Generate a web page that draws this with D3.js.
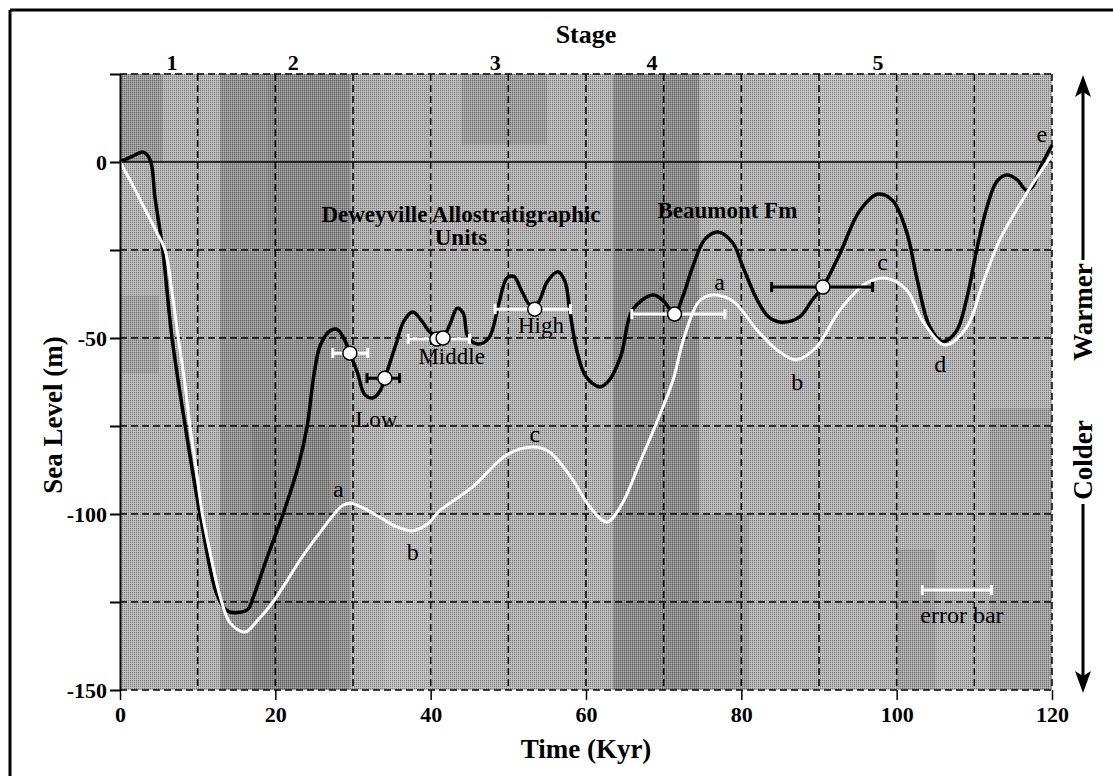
<!DOCTYPE html>
<html>
<head>
<meta charset="utf-8">
<script src="https://cdn.jsdelivr.net/npm/d3@7"></script>
<style>
body { margin: 0; background: #fff; }
svg text { font-family: "Liberation Serif", "Times New Roman", serif; fill: #000; }
</style>
</head>
<body>
<svg id="chart" width="1113" height="776"></svg>
<script>
// sea level curve from the dated units (black)
var blackKyr = [0, 1.5, 3.0, 3.9, 4.5, 5.5, 6.7, 8.4, 10.3, 12.5, 13.8, 15.2, 16.5, 17.1, 19.0, 21.0, 23.0, 24.1, 25.0, 25.8, 27.0, 27.9, 28.8, 29.6, 30.6, 31.5, 32.6, 33.5, 34.1, 35.5, 36.6, 37.7, 38.8, 40.0, 41.6, 42.5, 43.4, 44.2, 44.8, 46.1, 47.5, 48.8, 49.8, 50.7, 51.8, 52.8, 53.8, 55.0, 56.4, 57.3, 57.9, 58.8, 60.0, 61.8, 63.0, 64.5, 66.0, 68.6, 70.0, 71.4, 72.5, 73.7, 75.3, 77.0, 78.9, 80.2, 82.0, 83.5, 85.2, 87.5, 89.2, 90.5, 92.7, 95.2, 97.6, 99.5, 101.3, 102.6, 104.2, 105.9, 107.7, 109.0, 110.3, 111.6, 112.9, 114.2, 115.5, 116.7, 117.5, 118.4, 120];
var blackSea = [0, 1.5, 2.8, 0.5, -10, -25, -50, -75, -100, -123, -127.5, -128, -127, -124, -112, -100, -86, -75, -60, -52, -48, -47.5, -50, -54.3, -60, -66, -67, -65, -61.4, -52, -45, -42.6, -45, -48.5, -49.5, -46, -41.6, -43, -49.7, -51.7, -50, -40, -33, -32.5, -37, -40.6, -40, -34, -31.2, -34, -42, -53.4, -61, -63.9, -62, -55, -42, -37.8, -39.5, -43.2, -38, -30, -22, -19.9, -23, -29.8, -39, -44, -45.5, -44, -39, -35.5, -26, -14, -9.1, -11, -20, -33, -46.5, -51, -48, -39, -25, -13, -5.5, -3.7, -5, -8, -7, -2, 4.8];

// oxygen isotope sea level curve (white)
var whiteKyr = [0, 1.5, 3.0, 4.5, 5.8, 6.7, 7.5, 8.3, 9.0, 9.8, 10.6, 11.7, 12.9, 14.2, 16.1, 17.6, 19.7, 21.5, 23.2, 25.5, 27.4, 28.7, 29.8, 31.5, 33.5, 35.5, 37.6, 39.5, 41.2, 45.4, 49.8, 53.2, 55.3, 58.3, 60.5, 62.7, 64.7, 66.9, 69.1, 71.2, 72.6, 74.6, 76.3, 78.9, 82.0, 84.6, 87.1, 89.7, 92.7, 96.1, 98.7, 101.3, 103.3, 106.2, 109.0, 111.1, 113.3, 116.7, 120];
var whiteSea = [0, -6, -12.5, -19, -25, -37, -50, -62, -75, -87, -100, -112, -123.5, -131, -133.5, -130.5, -125, -119, -113, -106, -100.5, -97.5, -97, -98.5, -101, -103.5, -104.8, -103, -99, -92.3, -83.2, -81, -82.4, -90.3, -98, -102.3, -96.9, -85.5, -74, -62, -50, -39.5, -37.8, -39.5, -47.7, -53.4, -56.2, -52.5, -42, -34.4, -33, -36.4, -45, -52, -47, -34.4, -22, -9, 2];

// dated samples with age error bars
var barLow = [27.4, 31.8, 37.1, 48.3, 65.9, 83.9];
var barHigh = [31.9, 36.0, 45.0, 58.0, 77.9, 96.9];
var barSea = [-54.3, -61.4, -50.3, -41.8, -43.2, -35.5];
var barGroup = [1, 2, 1, 1, 1, 2];
var pointKyr = [29.6, 34.1, 40.8, 41.6, 53.4, 71.4, 90.5];
var pointSea = [-54.3, -61.4, -50.3, -50.0, -41.8, -43.2, -35.5];

// legend error bar
var legendBarKyr = [103.3, 112.2];
var legendBarSea = -121.6;

// labels
var stageNames = ["1", "2", "3", "4", "5"];
var stageKyr = [6.7, 22.3, 48.3, 68.5, 97.6];
var peakNames = ["a", "b", "c", "a", "b", "c", "d", "e"];
var peakKyr = [28.1, 37.7, 53.4, 77.2, 87.2, 98.2, 105.6, 118.7];
var peakSea = [-95.2, -113.1, -79.5, -36.4, -64.8, -30.7, -59.7, 5.7];
var unitNames = ["Low", "Middle", "High"];
var unitKyr = [33.0, 42.7, 54.2];
var unitSea = [-75.3, -57.4, -48.6];
var yTicks = [25, 0, -25, -50, -75, -100, -125, -150];
var yLabels = [0, -50, -100, -150];
var xTicks = [0, 20, 40, 60, 80, 100, 120];

// background halftone patches [kyr0, kyr1, sea0, sea1, grey]
var patches = [
    [0, 120, -150, 25, "#b3b3b3"],
    [0, 5.5, 0, 25, "#979797"],
    [0, 5, -60, -38, "#a2a2a2"],
    [12.9, 29.6, -150, 25, "#919191"],
    [17, 27, -150, -75, "#858585"],
    [19, 29.6, 25, -25, "#888888"],
    [29.6, 33.5, 25, -75, "#adadad"],
    [34, 40, -75, -150, "#bcbcbc"],
    [44, 55, 25, 5, "#9c9c9c"],
    [63.5, 74.6, -150, 25, "#8b8b8b"],
    [74.6, 81, -150, -100, "#9e9e9e"],
    [84, 100, 25, 0, "#bcbcbc"],
    [100, 105, -150, -110, "#a2a2a2"],
    [112, 120, -150, -70, "#a0a0a0"]
];

var svg = d3.select("#chart");
var x = d3.scaleLinear().domain([0, 120]).range([120, 1052]);
var y = d3.scaleLinear().domain([-150, 25]).range([690, 74]);

drawFrame();
drawBackground();
drawGrid();
drawCurves();
drawErrorBars();
drawAxes();
drawLabels();
drawArrow();

function drawFrame() {
    svg.append("line").attr("x1", 10).attr("y1", 10).attr("x2", 1113).attr("y2", 10)
        .attr("stroke", "#000").attr("stroke-width", 3);
    svg.append("line").attr("x1", 10).attr("y1", 10).attr("x2", 10).attr("y2", 776)
        .attr("stroke", "#000").attr("stroke-width", 3);
}

function drawBackground() {
    var defs = svg.append("defs");
    var pat = defs.append("pattern")
        .attr("id", "halftone")
        .attr("width", 2).attr("height", 2)
        .attr("patternUnits", "userSpaceOnUse");
    pat.append("rect").attr("width", 1).attr("height", 1).attr("fill", "#000").attr("opacity", 0.3);
    pat.append("rect").attr("x", 1).attr("y", 1).attr("width", 1).attr("height", 1).attr("fill", "#fff").attr("opacity", 0.3);

    svg.append("g").selectAll("rect")
        .data(patches)
        .join("rect")
        .attr("x", function (d) { return x(d[0]); })
        .attr("y", function (d) { return y(Math.max(d[2], d[3])); })
        .attr("width", function (d) { return x(d[1]) - x(d[0]); })
        .attr("height", function (d) { return Math.abs(y(d[2]) - y(d[3])); })
        .attr("fill", function (d) { return d[4]; });

    svg.append("rect")
        .attr("x", x(0)).attr("y", y(25))
        .attr("width", x(120) - x(0)).attr("height", y(-150) - y(25))
        .attr("fill", "url(#halftone)");
}

function drawGrid() {
    var g = svg.append("g").attr("stroke", "#000").attr("stroke-width", 1.5).attr("stroke-dasharray", "7,4");
    g.selectAll("line.v")
        .data(d3.range(10, 121, 10))
        .join("line")
        .attr("class", "v")
        .attr("x1", function (d) { return x(d); }).attr("x2", function (d) { return x(d); })
        .attr("y1", y(25)).attr("y2", y(-150));
    g.selectAll("line.h")
        .data([25, -25, -50, -75, -100, -125, -150])
        .join("line")
        .attr("class", "h")
        .attr("x1", x(0)).attr("x2", x(120))
        .attr("y1", function (d) { return y(d); }).attr("y2", function (d) { return y(d); });
    // present sea level
    svg.append("line")
        .attr("x1", x(0)).attr("x2", x(120))
        .attr("y1", y(0)).attr("y2", y(0))
        .attr("stroke", "#000").attr("stroke-width", 1.5);
}

function drawCurves() {
    var line = d3.line().curve(d3.curveCatmullRom.alpha(0.5));
    var blackPts = blackKyr.map(function (k, i) { return [x(k), y(blackSea[i])]; });
    var whitePts = whiteKyr.map(function (k, i) { return [x(k), y(whiteSea[i])]; });
    svg.append("path")
        .attr("d", line(blackPts))
        .attr("fill", "none").attr("stroke", "#000").attr("stroke-width", 3.5)
        .attr("stroke-linejoin", "round");
    svg.append("path")
        .attr("d", line(whitePts))
        .attr("fill", "none").attr("stroke", "#fff").attr("stroke-width", 3)
        .attr("stroke-linejoin", "round");
}

function errorBar(g, k0, k1, sea, colour) {
    var yy = y(sea);
    g.append("line").attr("x1", x(k0)).attr("x2", x(k1)).attr("y1", yy).attr("y2", yy)
        .attr("stroke", colour).attr("stroke-width", 3);
    [k0, k1].forEach(function (k) {
        g.append("line").attr("x1", x(k)).attr("x2", x(k)).attr("y1", yy - 5).attr("y2", yy + 5)
            .attr("stroke", colour).attr("stroke-width", 3);
    });
}

function drawErrorBars() {
    var g = svg.append("g");
    for (var i in barLow) {
        errorBar(g, barLow[i], barHigh[i], barSea[i], barGroup[i] == 1 ? "#fff" : "#000");
    }
    g.selectAll("circle")
        .data(pointKyr)
        .join("circle")
        .attr("cx", function (d) { return x(d); })
        .attr("cy", function (d, i) { return y(pointSea[i]); })
        .attr("r", 7)
        .attr("fill", "#fff").attr("stroke", "#000").attr("stroke-width", 1.5);

    errorBar(g, legendBarKyr[0], legendBarKyr[1], legendBarSea, "#fff");
}

function drawAxes() {
    var ya = svg.append("g")
        .attr("transform", "translate(" + x(0) + ",0)")
        .call(d3.axisLeft(y).tickValues(yTicks).tickSize(10).tickSizeOuter(0).tickPadding(3)
            .tickFormat(function (d) { return yLabels.indexOf(d) >= 0 ? String(d) : ""; }));
    ya.select(".domain").attr("stroke-width", 2);
    ya.selectAll(".tick line").attr("stroke-width", 2);

    var xa = svg.append("g")
        .attr("transform", "translate(0," + y(-150) + ")")
        .call(d3.axisBottom(x).tickValues(xTicks).tickSize(10).tickPadding(6).tickFormat(String));
    xa.select(".domain").remove();
    xa.selectAll(".tick line").attr("stroke-width", 1.5);

    svg.selectAll(".tick text")
        .attr("font-family", "Liberation Serif")
        .attr("font-weight", "bold")
        .attr("font-size", 22);

    svg.append("text")
        .attr("x", (x(0) + x(120)) / 2).attr("y", 758)
        .attr("text-anchor", "middle")
        .attr("font-weight", "bold").attr("font-size", 27)
        .text("Time (Kyr)");
    svg.append("text")
        .attr("transform", "translate(62," + 415 + ") rotate(-90)")
        .attr("text-anchor", "middle")
        .attr("font-weight", "bold").attr("font-size", 27)
        .text("Sea Level (m)");
}

function drawLabels() {
    svg.append("text")
        .attr("x", (x(0) + x(120)) / 2).attr("y", 43)
        .attr("text-anchor", "middle")
        .attr("font-weight", "bold").attr("font-size", 26)
        .text("Stage");
    svg.selectAll("text.stage")
        .data(stageNames)
        .join("text")
        .attr("class", "stage")
        .attr("x", function (d, i) { return x(stageKyr[i]); })
        .attr("y", 70)
        .attr("text-anchor", "middle")
        .attr("font-weight", "bold").attr("font-size", 22)
        .text(function (d) { return d; });

    svg.selectAll("text.peak")
        .data(peakNames)
        .join("text")
        .attr("class", "peak")
        .attr("x", function (d, i) { return x(peakKyr[i]); })
        .attr("y", function (d, i) { return y(peakSea[i]); })
        .attr("text-anchor", "middle")
        .attr("font-size", 24)
        .text(function (d) { return d; });

    svg.selectAll("text.unit")
        .data(unitNames)
        .join("text")
        .attr("class", "unit")
        .attr("x", function (d, i) { return x(unitKyr[i]); })
        .attr("y", function (d, i) { return y(unitSea[i]); })
        .attr("text-anchor", "middle")
        .attr("font-size", 23)
        .text(function (d) { return d; });

    var dw = svg.append("text")
        .attr("text-anchor", "middle")
        .attr("font-weight", "bold").attr("font-size", 23);
    dw.append("tspan").attr("x", x(43.9)).attr("y", y(-17)).text("Deweyville Allostratigraphic");
    dw.append("tspan").attr("x", x(43.9)).attr("y", y(-23.6)).text("Units");

    svg.append("text")
        .attr("x", x(78.2)).attr("y", y(-15.9))
        .attr("text-anchor", "middle")
        .attr("font-weight", "bold").attr("font-size", 23)
        .text("Beaumont Fm");

    svg.append("text")
        .attr("x", x(108.4)).attr("y", y(-131))
        .attr("text-anchor", "middle")
        .attr("font-size", 24)
        .text("error bar");
}

function drawArrow() {
    var ax = x(120) + 31;
    var top = y(25) + 1, bottom = y(-150) + 3;
    var warmY = 312, coldY = 460;
    var g = svg.append("g");
    g.append("line").attr("x1", ax).attr("x2", ax).attr("y1", top + 15).attr("y2", warmY - 52)
        .attr("stroke", "#000").attr("stroke-width", 3);
    g.append("line").attr("x1", ax).attr("x2", ax).attr("y1", coldY + 44).attr("y2", bottom - 15)
        .attr("stroke", "#000").attr("stroke-width", 3);
    g.append("path")
        .attr("d", "M" + ax + "," + top + " L" + (ax - 8) + "," + (top + 22) + " L" + ax + "," + (top + 17) + " L" + (ax + 8) + "," + (top + 22) + "Z")
        .attr("fill", "#000");
    g.append("path")
        .attr("d", "M" + ax + "," + bottom + " L" + (ax - 8) + "," + (bottom - 22) + " L" + ax + "," + (bottom - 17) + " L" + (ax + 8) + "," + (bottom - 22) + "Z")
        .attr("fill", "#000");
    g.append("text")
        .attr("transform", "translate(" + (ax + 9) + "," + warmY + ") rotate(-90)")
        .attr("text-anchor", "middle")
        .attr("font-weight", "bold").attr("font-size", 27)
        .text("Warmer");
    g.append("text")
        .attr("transform", "translate(" + (ax + 9) + "," + coldY + ") rotate(-90)")
        .attr("text-anchor", "middle")
        .attr("font-weight", "bold").attr("font-size", 27)
        .text("Colder");
}
</script>
</body>
</html>
